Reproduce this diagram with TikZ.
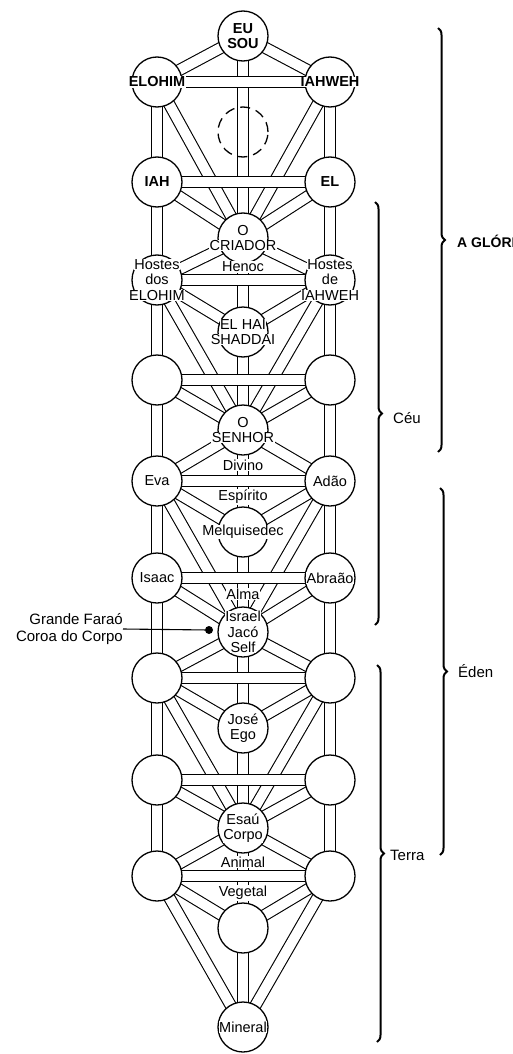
\documentclass[tikz,border=0pt]{standalone}
\usepackage{fontspec}
\setmainfont{Liberation Sans}
\usetikzlibrary{backgrounds,decorations.pathreplacing}

% one line of text on a white strip, taking no width
\newcommand{\wl}[1]{\makebox[0pt]{\setlength{\fboxsep}{0.5pt}\colorbox{white}{#1}}}

\tikzset{
  orb/.style={circle, draw, fill=white, line width=1.3pt, minimum size=50pt,
    inner sep=0pt, align=center, font=\fontsize{14.5}{15.5}\selectfont},
  bold orb/.style={orb, font=\fontsize{14.5}{15.5}\selectfont\bfseries},
  hidden/.style={circle, draw, line width=1.3pt, dash pattern=on 10pt off 6pt,
    minimum size=50pt, inner sep=0pt},
  channel/.style={line width=1.1pt, double=white, double distance=10pt},
  tag/.style={fill=white, inner sep=0.8pt, font=\fontsize{14.5}{15.5}\selectfont},
  side/.style={inner sep=0pt, align=right, font=\fontsize{15}{17}\selectfont},
  curly/.style={decorate, decoration={brace, amplitude=7pt}, line width=2pt},
}

\begin{document}
\begin{tikzpicture}[x=1pt, y=-1pt]
\useasboundingbox (0,0) rectangle (513,1054);

% centre column
\node[bold orb] (c0) at (243,36) {\wl{EU}\\\wl{SOU}};
\node[hidden] (c1) at (243,132) {};
\node[orb] (c2) at (243,238) {\wl{O}\\\wl{CRIADOR}};
\node[orb] (c3) at (243,332) {\wl{EL HAI}\\\wl{SHADDAI}};
\node[orb] (c4) at (243,430) {\wl{O}\\\wl{SENHOR}};
\node[orb] (c5) at (243,532) {\wl{Melquisedec}};
\node[orb] (c6) at (243,632) {\wl{Israel}\\\wl{Jacó}\\\wl{Self}};
\node[orb] (c7) at (243,728) {\wl{José}\\\wl{Ego}};
\node[orb] (c8) at (243,828) {\wl{Esaú}\\\wl{Corpo}};
\node[orb] (c9) at (243,928) {};
\node[orb] (c10) at (243,1027) {\wl{Mineral}};

% side columns
\node[bold orb] (l1) at (157,82) {\wl{ELOHIM}};
\node[bold orb] (r1) at (330,82) {\wl{IAHWEH}};
\node[bold orb] (l2) at (157,182) {\wl{IAH}};
\node[bold orb] (r2) at (330,182) {\wl{EL}};
\node[orb] (l3) at (157,280) {\wl{Hostes}\\\wl{dos}\\\wl{ELOHIM}};
\node[orb] (r3) at (330,280) {\wl{Hostes}\\\wl{de}\\\wl{IAHWEH}};
\node[orb] (l4) at (157,380) {};
\node[orb] (r4) at (330,380) {};
\node[orb] (l5) at (157,481) {\wl{Eva}};
\node[orb] (r5) at (330,481) {\wl{Adão}};
\node[orb] (l6) at (157,578) {\wl{Isaac}};
\node[orb] (r6) at (330,578) {\wl{Abraão}};
\foreach \n/\y in {7/678, 8/780, 9/876} {
  \node[orb] (l\n) at (157,\y) {};
  \node[orb] (r\n) at (330,\y) {};
}

% paths
\begin{scope}[on background layer]
\foreach \a/\b in {1/2, 3/4, 5/6, 7/8, 9/10} {
  \draw[channel] (l\a.center) -- (c\b.center);
  \draw[channel] (r\a.center) -- (c\b.center);
}
\foreach \a/\b in {1/0, 2/2, 3/2, 3/3, 4/4, 5/4, 5/5, 6/6, 7/6, 7/7, 8/8, 9/8, 9/9} {
  \draw[channel] (l\a.center) -- (c\b.center);
  \draw[channel] (r\a.center) -- (c\b.center);
}
\foreach \a/\b in {0/2, 2/3, 3/4, 4/5, 5/6, 6/7, 7/8, 8/9, 9/10}
  \draw[channel] (c\a.center) -- (c\b.center);
\foreach \a in {1,...,8} {
  \pgfmathtruncatemacro{\b}{\a+1}
  \draw[channel] (l\a.center) -- (l\b.center);
  \draw[channel] (r\a.center) -- (r\b.center);
}
\foreach \a in {1,...,9}
  \draw[channel] (l\a.center) -- (r\a.center);
\end{scope}

% words on the paths
\node[tag] (henoc) at (243,267) {Henoc};
\node[tag] (divino) at (243,465) {Divino};
\node[tag] (espirito) at (243,497) {Espírito};
\node[tag] (alma) at (243,594) {Alma};
\node[tag] (animal) at (243,862) {Animal};
\node[tag] (vegetal) at (243,893) {Vegetal};

% pointer
\node[side, anchor=east] (farao) at (123,629) {Grande Faraó\\Coroa do Corpo};
\node[circle, fill, inner sep=0pt, minimum size=8pt] (crown) at (209,630) {};
\draw[line width=1.1pt] (farao.east) -- (crown);

% braces
\draw[curly] (438,28) -- (438,452);
\node[side, anchor=west, font=\fontsize{14}{15}\selectfont\bfseries] (gloria) at (457,241) {A GLÓRIA};
\draw[curly] (375,202) -- (375,625);
\node[side, anchor=west] (ceu) at (393,418) {Céu};
\draw[curly] (440,488) -- (440,855);
\node[side, anchor=west] (eden) at (458,671) {Éden};
\draw[curly] (377,665) -- (377,1042);
\node[side, anchor=west] (terra) at (390,855) {Terra};
\end{tikzpicture}
\end{document}
